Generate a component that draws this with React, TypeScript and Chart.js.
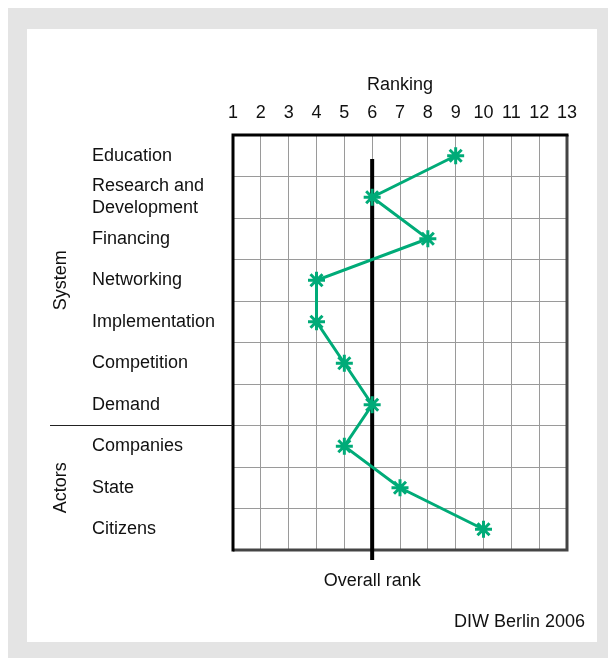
import React, { useEffect, useRef } from 'react';
import { Chart, registerables } from 'chart.js';

Chart.register(...registerables);

// ---- Data ----
const categories = [
  'Education',
  'Research and Development',
  'Financing',
  'Networking',
  'Implementation',
  'Competition',
  'Demand',
  'Companies',
  'State',
  'Citizens',
];
const ranks = [9, 6, 8, 4, 4, 5, 6, 5, 7, 10];
const rankMin = 1;
const rankMax = 13;
const overallRank = 6;
const overallLineSpan = [0.08, 9.74]; // in row units on the hidden linear row axis
const groupLabels = ['System', 'Actors'];
const groupStarts = [0, 7];
const groupEnds = [6, 9];
const axisTitle = 'Ranking';
const overallLabel = 'Overall rank';
const sourceLabel = 'DIW Berlin 2006';

const FONT_FAMILY = '"Liberation Sans", Arial, Helvetica, sans-serif';
const TEXT = '#111';
const GREEN = '#00ab78';
const GRID = '#9a9a9a';

function wrapLabel(s: string, max = 14): string | string[] {
  const words = s.split(' ');
  const lines: string[] = [];
  let cur = '';
  for (const w of words) {
    const next = cur ? cur + ' ' + w : w;
    if (next.length > max && cur) {
      lines.push(cur);
      cur = w;
    } else cur = next;
  }
  if (cur) lines.push(cur);
  return lines.length > 1 ? lines : lines[0];
}

const decorPlugin = {
  id: 'decor',
  beforeDatasetsDraw(chart: any) {
    const { ctx, chartArea } = chart;
    const { left, right, top, bottom } = chartArea;
    ctx.save();
    ctx.lineWidth = 3;
    ctx.strokeStyle = '#444';
    ctx.beginPath();
    ctx.moveTo(right, top);
    ctx.lineTo(right, bottom);
    ctx.lineTo(left, bottom);
    ctx.stroke();
    ctx.strokeStyle = '#000';
    ctx.beginPath();
    ctx.moveTo(left, bottom + 1.5);
    ctx.lineTo(left, top);
    ctx.lineTo(right + 1.5, top);
    ctx.stroke();
    ctx.restore();
  },
  afterDraw(chart: any) {
    const { ctx, chartArea } = chart;
    const xs = chart.scales.x;
    const ys = chart.scales.y;
    ctx.save();
    // separator between groups
    const sepY = (ys.getPixelForValue(groupEnds[0]) + ys.getPixelForValue(groupStarts[1])) / 2;
    ctx.strokeStyle = '#222';
    ctx.lineWidth = 1.2;
    ctx.beginPath();
    ctx.moveTo(23, sepY);
    ctx.lineTo(chartArea.left, sepY);
    ctx.stroke();

    ctx.fillStyle = TEXT;
    ctx.font = `18px ${FONT_FAMILY}`;
    ctx.textAlign = 'center';
    ctx.textBaseline = 'middle';
    groupLabels.forEach((g, i) => {
      const cy = (ys.getPixelForValue(groupStarts[i]) + ys.getPixelForValue(groupEnds[i])) / 2;
      ctx.save();
      ctx.translate(34, cy);
      ctx.rotate(-Math.PI / 2);
      ctx.fillText(g, 0, 0);
      ctx.restore();
    });

    ctx.fillText(overallLabel, xs.getPixelForValue(overallRank), 552);
    ctx.textAlign = 'right';
    ctx.fillText(sourceLabel, 558, 593);
    ctx.restore();
  },
};

export default function App() {
  const ref = useRef<HTMLCanvasElement | null>(null);

  useEffect(() => {
    if (!ref.current) return;
    const font = { family: FONT_FAMILY, size: 18 };
    const chart = new Chart(ref.current, {
      type: 'line',
      data: {
        datasets: [
          {
            label: 'Ranking',
            data: ranks.map((r, i) => ({ x: r, y: categories[i] })) as any,
            xAxisID: 'x',
            yAxisID: 'y',
            borderColor: GREEN,
            borderWidth: 3,
            pointStyle: 'star',
            pointRadius: 8.5,
            pointBorderWidth: 3,
            pointBorderColor: GREEN,
            pointBackgroundColor: GREEN,
            tension: 0,
            fill: false,
            order: 0,
          },
          {
            label: overallLabel,
            data: overallLineSpan.map((v) => ({ x: overallRank, y: v })) as any,
            xAxisID: 'x',
            yAxisID: 'y2',
            borderColor: '#000',
            borderWidth: 4,
            pointRadius: 0,
            clip: false as any,
            fill: false,
            order: 1,
          },
        ],
      },
      options: {
        animation: false,
        responsive: false,
        events: [],
        layout: { padding: { left: 65, right: 30, top: 0, bottom: 92 } },
        plugins: { legend: { display: false }, tooltip: { enabled: false } },
        scales: {
          x: {
            type: 'linear',
            position: 'top',
            min: rankMin,
            max: rankMax,
            ticks: { stepSize: 1, padding: 11, color: TEXT, font, autoSkip: false, maxRotation: 0 },
            grid: { color: GRID, lineWidth: 1, drawTicks: false },
            border: { display: false },
            title: {
              display: true,
              text: axisTitle,
              color: TEXT,
              font,
              padding: { top: 45, bottom: 0 },
            },
            afterFit: (s: any) => {
              s.height = 106;
            },
          },
          y: {
            type: 'category',
            labels: categories,
            offset: true,
            grid: { offset: true, color: GRID, lineWidth: 1, drawTicks: false },
            border: { display: false },
            ticks: {
              autoSkip: false,
              crossAlign: 'far',
              color: TEXT,
              font,
              padding: 0,
              callback: function (this: any, value: any) {
                return wrapLabel(this.getLabelForValue(value));
              },
            },
            afterFit: (s: any) => {
              s.width = 141;
            },
          },
          y2: {
            type: 'linear',
            display: false,
            reverse: true,
            min: -0.5,
            max: categories.length - 0.5,
          },
        },
      },
      plugins: [decorPlugin],
    } as any);
    return () => chart.destroy();
  }, []);

  return (
    <div style={{ position: 'relative', width: 608, height: 650, background: '#e4e4e4' }}>
      <div
        style={{
          position: 'absolute',
          left: 19,
          top: 21,
          width: 570,
          height: 613,
          background: '#fff',
        }}
      >
        <canvas ref={ref} width={570} height={613} style={{ display: 'block', width: 570, height: 613 }} />
      </div>
    </div>
  );
}
